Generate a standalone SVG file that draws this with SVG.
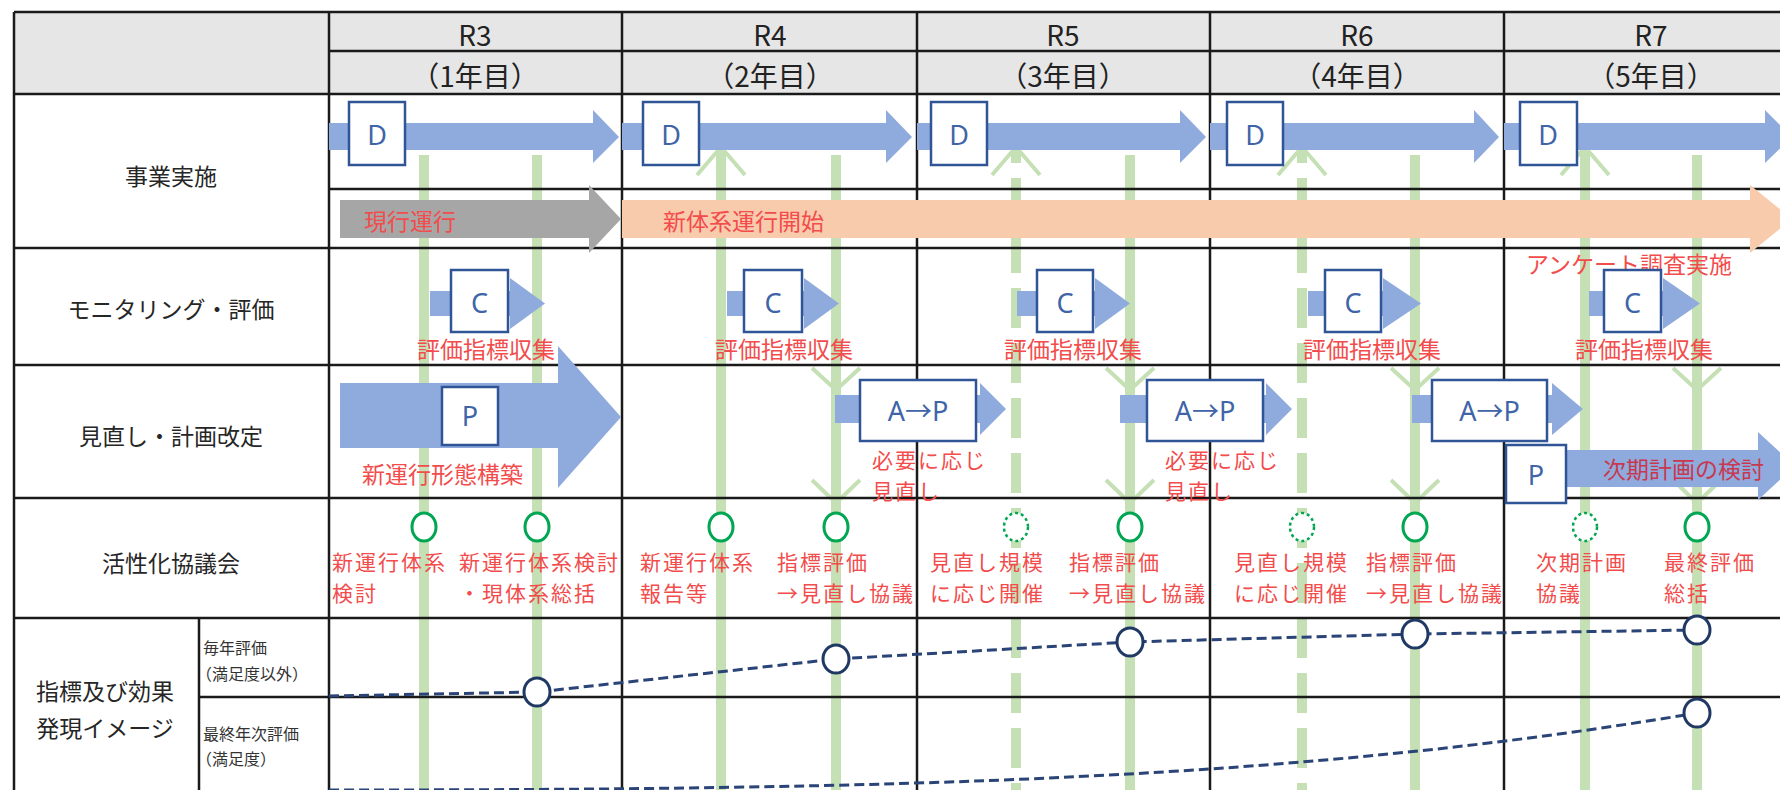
<svg xmlns="http://www.w3.org/2000/svg" width="1780" height="790" viewBox="0 0 1780 790">
<style>
.grid{stroke:#1a1a1a;stroke-width:2.5;fill:none}
.bar{stroke:#c5e0b4;stroke-width:10;fill:none}
.bard{stroke:#c5e0b4;stroke-width:10;fill:none;stroke-dasharray:40 15;stroke-dashoffset:24}
.chev{stroke:#c5e0b4;stroke-width:4;fill:none}
.blue{fill:#8faadc}
.gray{fill:#a6a6a6}
.orange{fill:#f8cbad}
.box{fill:#fff;stroke:#2f5597;stroke-width:2.5}
.bt{font-family:'Noto Sans','Noto Sans CJK JP',sans-serif;font-size:27px;fill:#4064a8;text-anchor:middle;dominant-baseline:central}
.red{font-family:'Noto Sans CJK JP',sans-serif;font-size:23px;fill:#f24c4c;dominant-baseline:central}
.red2{font-size:21px;letter-spacing:2px}
.redc{text-anchor:middle}
.lbl{font-family:'Noto Sans CJK JP',sans-serif;font-size:23px;fill:#262626;text-anchor:middle;dominant-baseline:central}
.sm{font-family:'Noto Sans CJK JP',sans-serif;font-size:16px;fill:#333;dominant-baseline:central}
.hdr{font-family:'Noto Sans CJK JP',sans-serif;fill:#222;text-anchor:middle;font-size:28px}
.gc{fill:#fff;stroke:#00a651;stroke-width:3}
.gcd{fill:#fff;stroke:#00a651;stroke-width:2.5;stroke-dasharray:3 3}
.nc{fill:#fff;stroke:#1f3864;stroke-width:3}
.nl{stroke:#2a4478;stroke-width:3;fill:none;stroke-dasharray:10 5}
</style>
<rect x="14" y="12" width="1766" height="82" fill="#e6e6e6"/>
<g id="bars">
<line class="bar" x1="424" y1="155" x2="424" y2="790"/>
<line class="bar" x1="537" y1="155" x2="537" y2="790"/>
<line class="bar" x1="721" y1="147" x2="721" y2="790"/>
<line class="bar" x1="836" y1="155" x2="836" y2="790"/>
<line class="bard" x1="1016" y1="147" x2="1016" y2="790"/>
<line class="bar" x1="1130" y1="155" x2="1130" y2="790"/>
<line class="bard" x1="1302" y1="147" x2="1302" y2="790"/>
<line class="bar" x1="1415" y1="155" x2="1415" y2="790"/>
<line class="bar" x1="1585" y1="147" x2="1585" y2="790"/>
<line class="bar" x1="1697" y1="155" x2="1697" y2="790"/>
<polyline class="chev" points="697,175 721,147 745,175"/>
<polyline class="chev" points="992,175 1016,147 1040,175"/>
<polyline class="chev" points="1278,175 1302,147 1326,175"/>
<polyline class="chev" points="1561,175 1585,147 1609,175"/>
<polyline class="chev" points="812,368 836,390 860,368"/>
<polyline class="chev" points="812,480 836,503 860,480"/>
<polyline class="chev" points="1106,368 1130,390 1154,368"/>
<polyline class="chev" points="1106,480 1130,503 1154,480"/>
<polyline class="chev" points="1391,368 1415,390 1439,368"/>
<polyline class="chev" points="1391,480 1415,503 1439,480"/>
<polyline class="chev" points="1673,368 1697,390 1721,368"/>
<polyline class="chev" points="1673,480 1697,503 1721,480"/>
</g>
<g id="grid" class="grid">
<path d="M14,12H1780M329,51H1780M14,94H1780M329,189H1780M14,248H1780M14,365H1780M14,498H1780M14,618H1780M199,697H1780"/>
<path d="M14,12V790M329,12V790M199,618V790M622,12V790M917,12V790M1210,12V790M1504,12V790"/>
</g>
<g id="header">
<text class="hdr" x="475" y="46">R3</text><text class="hdr" x="475" y="87">（1年目）</text>
<text class="hdr" x="770" y="46">R4</text><text class="hdr" x="770" y="87">（2年目）</text>
<text class="hdr" x="1063" y="46">R5</text><text class="hdr" x="1063" y="87">（3年目）</text>
<text class="hdr" x="1357" y="46">R6</text><text class="hdr" x="1357" y="87">（4年目）</text>
<text class="hdr" x="1651" y="46">R7</text><text class="hdr" x="1651" y="87">（5年目）</text>
</g>
<g id="row-labels">
<text class="lbl" x="171" y="175">事業実施</text>
<text class="lbl" x="171" y="308">モニタリング・評価</text>
<text class="lbl" x="171" y="435">見直し・計画改定</text>
<text class="lbl" x="171" y="562">活性化協議会</text>
<text class="lbl" font-size="25"><tspan x="105" y="690">指標及び効果</tspan><tspan x="105" y="727">発現イメージ</tspan></text>
<text class="sm"><tspan x="203" y="647">毎年評価</tspan><tspan x="196" y="673">（満足度以外）</tspan></text>
<text class="sm"><tspan x="203" y="733">最終年次評価</tspan><tspan x="196" y="758">（満足度）</tspan></text>
</g>
<g id="do-arrows">
<polygon class="blue" points="329,123 593,123 593,110 619,137 593,163 593,150 329,150"/>
<polygon class="blue" points="622,123 886,123 886,110 912,137 886,163 886,150 622,150"/>
<polygon class="blue" points="917,123 1180,123 1180,110 1206,137 1180,163 1180,150 917,150"/>
<polygon class="blue" points="1210,123 1474,123 1474,110 1499,137 1474,163 1474,150 1210,150"/>
<polygon class="blue" points="1504,123 1765,123 1765,110 1792,137 1765,163 1765,150 1504,150"/>
<rect class="box" x="349" y="102" width="56" height="63"/><text class="bt" x="377" y="134">D</text>
<rect class="box" x="643" y="102" width="56" height="63"/><text class="bt" x="671" y="134">D</text>
<rect class="box" x="931" y="102" width="56" height="63"/><text class="bt" x="959" y="134">D</text>
<rect class="box" x="1227" y="102" width="56" height="63"/><text class="bt" x="1255" y="134">D</text>
<rect class="box" x="1520" y="102" width="57" height="63"/><text class="bt" x="1548" y="134">D</text>
</g>
<g id="operation">
<polygon class="gray" points="340,200 589,200 589,185 621,219 589,253 589,238 340,238"/>
<text class="red" x="364" y="220">現行運行</text>
<polygon class="orange" points="622,200 1750,200 1750,185 1792,219 1750,253 1750,238 622,238"/>
<text class="red" x="663" y="220">新体系運行開始</text>
<text class="red" x="1526" y="263">アンケート調査実施</text>
</g>
<g id="check">
<polygon class="blue" points="430,291 510,291 510,278 545,303.5 510,329 510,316 430,316"/>
<rect class="box" x="451" y="270" width="57" height="62"/><text class="bt" x="479.5" y="302">C</text>
<polygon class="blue" points="727,291 804,291 804,278 839,303.5 804,329 804,316 727,316"/>
<rect class="box" x="744" y="270" width="58" height="62"/><text class="bt" x="773" y="302">C</text>
<polygon class="blue" points="1017,291 1095,291 1095,278 1130,303.5 1095,329 1095,316 1017,316"/>
<rect class="box" x="1037" y="270" width="56" height="62"/><text class="bt" x="1065" y="302">C</text>
<polygon class="blue" points="1308,291 1383,291 1383,278 1421,303.5 1383,329 1383,316 1308,316"/>
<rect class="box" x="1325" y="270" width="56" height="62"/><text class="bt" x="1353" y="302">C</text>
<polygon class="blue" points="1589,291 1663,291 1663,278 1700,303.5 1663,329 1663,316 1589,316"/>
<rect class="box" x="1604" y="270" width="57" height="62"/><text class="bt" x="1632.5" y="302">C</text>
<text class="red redc" x="486" y="348">評価指標収集</text>
<text class="red redc" x="784" y="348">評価指標収集</text>
<text class="red redc" x="1073" y="348">評価指標収集</text>
<text class="red redc" x="1372" y="348">評価指標収集</text>
<text class="red redc" x="1644" y="348">評価指標収集</text>
</g>
<g id="plan">
<polygon class="blue" points="340,383 558,383 558,346 621,417 558,488 558,448 340,448"/>
<rect class="box" x="442" y="387" width="56" height="58"/><text class="bt" x="470" y="415">P</text>
<text class="red" x="362" y="473">新運行形態構築</text>
<polygon class="blue" points="835,395 980,395 980,383 1006,409 980,435 980,423 835,423"/>
<rect class="box" x="860" y="380" width="116" height="61"/><text class="bt" x="918" y="410">A→P</text>
<text class="red red2"><tspan x="872" y="459">必要に応じ</tspan><tspan x="872" y="490">見直し</tspan></text>
<polygon class="blue" points="1120,395 1266,395 1266,383 1292,409 1266,435 1266,423 1120,423"/>
<rect class="box" x="1147" y="380" width="116" height="61"/><text class="bt" x="1205" y="410">A→P</text>
<text class="red red2"><tspan x="1165" y="459">必要に応じ</tspan><tspan x="1165" y="490">見直し</tspan></text>
<polygon class="blue" points="1412,395 1552,395 1552,383 1583,409 1552,435 1552,423 1412,423"/>
<rect class="box" x="1432" y="380" width="115" height="61"/><text class="bt" x="1489.5" y="410">A→P</text>
<polygon class="blue" points="1506,450 1758,450 1758,432 1795,466 1758,500 1758,487 1506,487"/>
<rect class="box" x="1506" y="445" width="60" height="58"/><text class="bt" x="1536" y="474">P</text>
<text class="red" x="1603" y="468" style="fill:#c8384f">次期計画の検討</text>
</g>
<g id="council">
<ellipse class="gc" cx="424" cy="527" rx="12" ry="14"/>
<ellipse class="gc" cx="537" cy="527" rx="12" ry="14"/>
<ellipse class="gc" cx="721" cy="527" rx="12" ry="14"/>
<ellipse class="gc" cx="836" cy="527" rx="12" ry="14"/>
<ellipse class="gcd" cx="1016" cy="527" rx="12" ry="14"/>
<ellipse class="gc" cx="1130" cy="527" rx="12" ry="14"/>
<ellipse class="gcd" cx="1302" cy="527" rx="12" ry="14"/>
<ellipse class="gc" cx="1415" cy="527" rx="12" ry="14"/>
<ellipse class="gcd" cx="1585" cy="527" rx="12" ry="14"/>
<ellipse class="gc" cx="1697" cy="527" rx="12" ry="14"/>
<text class="red red2"><tspan x="332" y="561">新運行体系</tspan><tspan x="332" y="592">検討</tspan></text>
<text class="red red2"><tspan x="459" y="561">新運行体系検討</tspan><tspan x="459" y="592">・現体系総括</tspan></text>
<text class="red red2"><tspan x="640" y="561">新運行体系</tspan><tspan x="640" y="592">報告等</tspan></text>
<text class="red red2"><tspan x="777" y="561">指標評価</tspan><tspan x="777" y="592">→見直し協議</tspan></text>
<text class="red red2"><tspan x="930" y="561">見直し規模</tspan><tspan x="930" y="592">に応じ開催</tspan></text>
<text class="red red2"><tspan x="1069" y="561">指標評価</tspan><tspan x="1069" y="592">→見直し協議</tspan></text>
<text class="red red2"><tspan x="1234" y="561">見直し規模</tspan><tspan x="1234" y="592">に応じ開催</tspan></text>
<text class="red red2"><tspan x="1366" y="561">指標評価</tspan><tspan x="1366" y="592">→見直し協議</tspan></text>
<text class="red red2"><tspan x="1536" y="561">次期計画</tspan><tspan x="1536" y="592">協議</tspan></text>
<text class="red red2"><tspan x="1664" y="561">最終評価</tspan><tspan x="1664" y="592">総括</tspan></text>
</g>
<g id="connectors">
<path class="nl" d="M329,696 L537,692 L836,659 L1130,642 L1415,634 L1697,630"/>
<path class="nl" d="M329,790 C900,790 1300,780 1697,713"/>
</g>
<g id="indicators">
<ellipse class="nc" cx="537" cy="692" rx="13" ry="14"/>
<ellipse class="nc" cx="836" cy="659" rx="13" ry="14"/>
<ellipse class="nc" cx="1130" cy="642" rx="13" ry="14"/>
<ellipse class="nc" cx="1415" cy="634" rx="13" ry="14"/>
<ellipse class="nc" cx="1697" cy="630" rx="13" ry="14"/>
<ellipse class="nc" cx="1697" cy="713" rx="13" ry="14"/>
</g>
</svg>
